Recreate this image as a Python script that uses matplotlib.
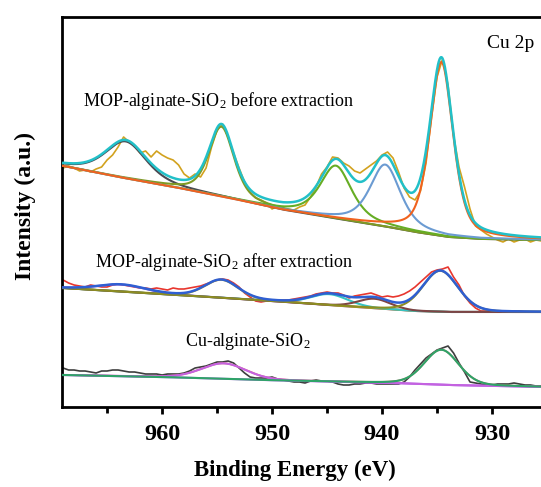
import numpy as np
import matplotlib
matplotlib.use("Agg")
import matplotlib.pyplot as plt

plt.rcParams['font.family'] = ['Liberation Serif', 'DejaVu Serif']
plt.rcParams['mathtext.fontset'] = 'custom'
plt.rcParams['mathtext.rm'] = 'Liberation Serif'
plt.rcParams['mathtext.it'] = 'Liberation Serif:italic'
plt.rcParams['mathtext.bf'] = 'Liberation Serif:bold'

# ---------------- data ----------------
energy = np.arange(969.0, 924.9, -0.5)   # binding energy grid of raw spectra (eV)

raw_before = [239, 241, 239, 236, 237, 235, 238, 240, 247, 252,
              260, 270, 265, 261, 254, 256, 250, 256, 252, 249,
              247, 242, 233, 229, 233, 230, 239, 260, 277, 283,
              270, 254, 239, 225, 215, 209, 207, 204, 198, 201,
              199, 197, 197, 200, 202, 210, 220, 233, 240, 250,
              249, 244, 241, 236, 234, 238, 242, 246, 252, 255,
              249, 235, 219, 210, 207, 216, 244, 290, 330, 348,
              322, 272, 240, 220, 198, 181, 177, 173, 170, 167,
              165, 168, 165, 167, 168, 165, 167, 166, 167]

raw_after = [127, 124, 122, 121, 120, 122, 121, 120, 120, 122,
             123, 122, 121, 120, 119, 119, 118, 119, 118, 117,
             119, 118, 118, 119, 120, 121, 123, 125, 127, 128,
             127, 124, 120, 114, 110, 106, 105, 106, 107, 106,
             107, 107, 108, 109, 110, 111, 113, 114, 115, 114,
             114, 112, 109, 111, 112, 113, 114, 112, 110, 111,
             110, 111, 113, 116, 120, 125, 130, 135, 137, 138,
             140, 130, 122, 111, 104, 99, 96, 96, 95, 96,
             96, 95, 96, 96, 95, 95, 95, 95, 95]

raw_cu = [39, 37, 37, 36, 36, 35, 34, 36, 36, 37,
          37, 36, 35, 35, 34, 33, 33, 33, 32, 33,
          33, 33, 34, 36, 39, 40, 41, 43, 45, 45,
          46, 44, 39, 34, 30, 29, 29, 29, 30, 28,
          27, 26, 25, 25, 24, 26, 27, 26, 26, 25,
          23, 22, 22, 23, 23, 24, 24, 23, 23, 23,
          23, 23, 25, 30, 37, 43, 49, 53, 57, 59,
          61, 54, 44, 35, 25, 24, 23, 22, 22, 23,
          23, 23, 24, 23, 22, 22, 21, 21, 21]

# backgrounds (knots)
bg_before_e = [969, 964, 959, 954, 949, 944, 940, 937, 934, 931, 925]
bg_before_v = [241, 230, 220, 209, 197, 188, 181, 175, 170, 168, 167]
bg_after_e = [969, 960, 950, 945, 941, 937, 934, 925]
bg_after_v = [119, 113, 106, 102, 99, 96, 95, 95]
bg_cu_e = [969, 960, 951, 945, 939, 934, 925]
bg_cu_v = [32, 30, 27, 25.5, 24, 22, 20]

# fitted components: centre (eV), height, FWHM (eV), Lorentzian fraction
pk_before_c = [963.3, 954.6, 944.2, 939.7, 934.6]
pk_before_h = [37, 70, 53, 62, 174]
pk_before_w = [4.4, 2.7, 3.4, 3.3, 2.5]
pk_before_eta = [0.5, 0.5, 0.6, 0.6, 0.5]

pk_after_c = [963.7, 954.6, 944.8, 940.7, 934.7]
pk_after_h = [7, 18, 11, 9.5, 41]
pk_after_w = [5.0, 3.6, 4.0, 3.5, 3.8]
pk_after_eta = [0.2, 0.2, 0.2, 0.2, 0.2]

pk_cu_c = [954.4, 934.6]
pk_cu_h = [15.5, 35]
pk_cu_w = [4.8, 3.7]
pk_cu_eta = [0.2, 0.2]

labels = [r'MOP-alginate-SiO$_\mathrm{2}$ before extraction',
          r'MOP-alginate-SiO$_\mathrm{2}$ after extraction',
          r'Cu-alginate-SiO$_\mathrm{2}$']
xticks = [960, 950, 940, 930]

# ---------------- styles ----------------
col_before = dict(raw='#d2a21e', env='#22c0c8',
                  comps=['#4a4a52', '#7f9a24', '#66ad24', '#6b9bd2', '#f0621e'])
col_after = dict(raw='#e8362e', env='#2f5fd2',
                 comps=['#9a55d6', '#b3a01c', '#35c3c3', '#7e4444', '#8c8d22'])
col_cu = dict(raw='#3e3e3e', env='#e06a6a',
              comps=['#c462e0', '#2ea468'], bg='#b060e8')

efine = np.linspace(969.2, 924.8, 1200)
W, H = 541.0, 487.0


def pv(e, c, h, w, eta):
    s = w / 2.0
    lor = 1.0 / (1.0 + ((e - c) / s) ** 2)
    gau = np.exp(-4 * np.log(2) * ((e - c) / w) ** 2)
    return h * (eta * lor + (1 - eta) * gau)


fig = plt.figure(figsize=(5.41, 4.87), dpi=100)
ax = fig.add_axes([62 / W, 80 / H, 485 / W, 390 / H])


def draw(raw, bge, bgv, cs, hs, ws, etas, col):
    bg = np.interp(efine[::-1], bge[::-1], bgv[::-1])[::-1]
    ax.plot(energy, raw, color=col['raw'], lw=1.2, zorder=2)
    comps = [pv(efine, c, h, w, et) for c, h, w, et in zip(cs, hs, ws, etas)]
    env = bg + np.sum(comps, axis=0)
    for comp, cc in zip(comps, col['comps']):
        ax.plot(efine, bg + comp, color=cc, lw=1.5, zorder=3)
    ax.plot(efine, env, color=col['env'], lw=1.8, zorder=4)


draw(raw_before, bg_before_e, bg_before_v, pk_before_c, pk_before_h,
     pk_before_w, pk_before_eta, col_before)
draw(raw_after, bg_after_e, bg_after_v, pk_after_c, pk_after_h,
     pk_after_w, pk_after_eta, col_after)
# bottom: envelope below the components
bgc = np.interp(efine[::-1], bg_cu_e[::-1], bg_cu_v[::-1])[::-1]
ax.plot(energy, raw_cu, color=col_cu['raw'], lw=1.2, zorder=2)
comps_cu = [pv(efine, c, h, w, et) for c, h, w, et in zip(pk_cu_c, pk_cu_h, pk_cu_w, pk_cu_eta)]
ax.plot(efine, bgc + np.sum(comps_cu, axis=0), color=col_cu['env'], lw=1.3, zorder=3)
ax.plot(efine, bgc, color=col_cu['bg'], lw=1.5, zorder=3)
for comp, cc in zip(comps_cu, col_cu['comps']):
    ax.plot(efine, bgc + comp, color=cc, lw=1.5, zorder=4)

ax.set_xlim(969.1, 925)
ax.set_ylim(0, 390)
ax.set_xticks(xticks)
ax.set_xticks([965, 955, 945, 935], minor=True)
ax.set_yticks([])
ax.tick_params(axis='x', which='major', direction='out', length=5, width=2,
               labelsize=17.5, pad=7)
ax.tick_params(axis='x', which='minor', direction='out', length=4, width=2)
for lab in ax.get_xticklabels():
    lab.set_fontweight('bold')
for s in ['left', 'bottom', 'top']:
    ax.spines[s].set_linewidth(2)
ax.spines['right'].set_visible(False)

ax.set_xlabel('Binding Energy (eV)', fontsize=16.5, fontweight='bold')
ax.xaxis.set_label_coords((295 - 62) / 485, -(470 - 407) / 390)
ax.xaxis.label.set_va('center')
ax.set_ylabel('Intensity (a.u.)', fontsize=17, fontweight='bold')
ax.yaxis.set_label_coords((25 - 62) / 485, (407 - 206) / 390)
ax.yaxis.label.set_va('center')


def ptext(x, y, s, size=13):
    fig.text(x / W, 1 - y / H, s, fontsize=size, va='center', ha='left')


ptext(83, 101, labels[0])
ptext(95, 262, labels[1])
ptext(185, 342, labels[2])
ptext(487, 43, 'Cu 2p', size=14)

fig.savefig('out.png', dpi=100)
